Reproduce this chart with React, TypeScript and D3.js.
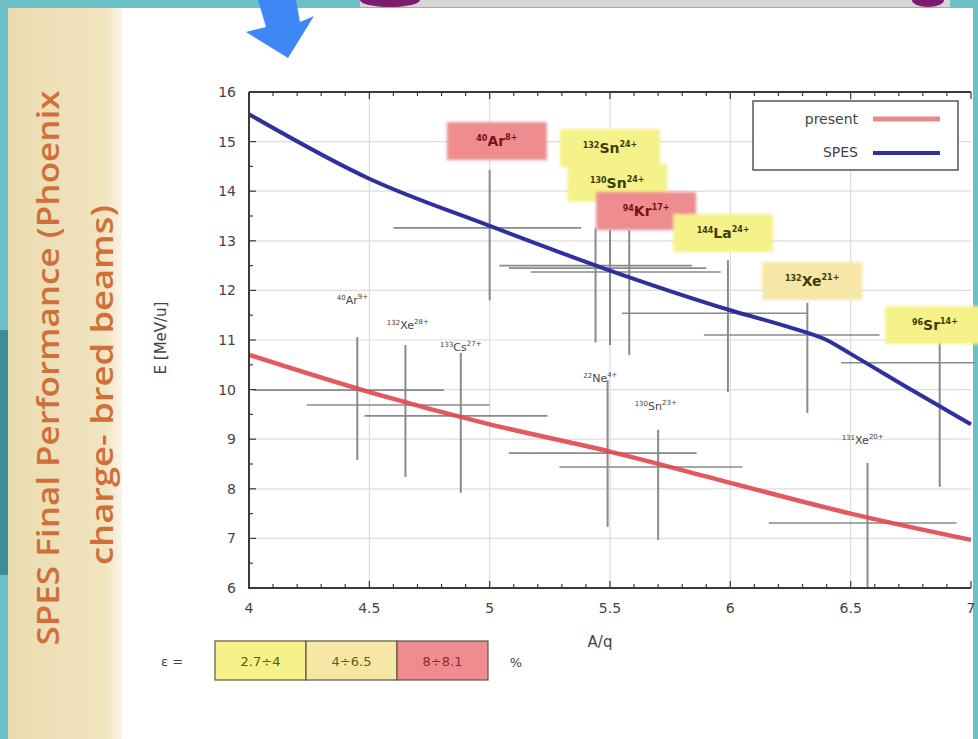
import * as d3 from 'd3';

// axis ticks
const aqTicks = [4, 4.5, 5, 5.5, 6, 6.5, 7];
const eTicks = [6, 7, 8, 9, 10, 11, 12, 13, 14, 15, 16];

// curves
const presentAQ = [4, 4.5, 5, 5.5, 6, 6.5, 7];
const presentE = [10.7, 9.95, 9.3, 8.75, 8.12, 7.5, 6.97];
const spesAQ = [4, 4.5, 5, 5.5, 6, 6.25, 6.4, 6.5, 6.75, 7];
const spesE = [15.55, 14.25, 13.3, 12.4, 11.6, 11.25, 11.0, 10.72, 10.0, 9.3];

// beams (centre, ranges, label)
const ionMass = ['40', '132', '133', '40', '132', '130', '94', '144', '132', '96', '22', '130', '131'];
const ionSymbol = ['Ar', 'Xe', 'Cs', 'Ar', 'Sn', 'Sn', 'Kr', 'La', 'Xe', 'Sr', 'Ne', 'Sn', 'Xe'];
const ionCharge = ['9+', '28+', '27+', '8+', '24+', '24+', '17+', '24+', '21+', '14+', '4+', '23+', '20+'];
const ionAQ = [4.45, 4.65, 4.88, 5.0, 5.5, 5.44, 5.58, 5.99, 6.32, 6.87, 5.49, 5.7, 6.57];
const ionE = [9.99, 9.69, 9.47, 13.26, 12.45, 12.5, 12.37, 11.54, 11.1, 10.54, 8.72, 8.44, 7.31];
const ionAQLo = [4.02, 4.24, 4.48, 4.6, 5.08, 5.04, 5.17, 5.55, 5.89, 6.46, 5.08, 5.29, 6.16];
const ionAQHi = [4.81, 5.0, 5.24, 5.38, 5.9, 5.84, 5.96, 6.32, 6.62, 7.02, 5.86, 6.05, 6.94];
const ionELo = [8.58, 8.24, 7.92, 11.8, 10.9, 10.95, 10.7, 9.95, 9.53, 8.04, 7.23, 6.97, 6.0];
const ionEHi = [11.06, 10.9, 10.74, 14.43, 13.22, 13.25, 13.22, 12.61, 11.75, 11.06, 10.19, 9.19, 8.52];
// efficiency class of highlighted beams, -1 = plain label
const ionClass = [-1, -1, -1, 2, 0, 0, 2, 0, 1, 0, -1, -1, -1];
const ionLabelAQ = [4.43, 4.66, 4.88, 5.03, 5.5, 5.53, 5.65, 5.97, 6.34, 6.85, 5.46, 5.69, 6.55];
const ionLabelE = [11.81, 11.3, 10.86, 15.01, 14.87, 14.17, 13.6, 13.16, 12.19, 11.3, 10.23, 9.67, 8.98];

const effLabels = ['2.7÷4', '4÷6.5', '8÷8.1'];
const effColors = ['#f5f28a', '#f7e7a6', '#ee8c8f'];
const effText = ['#5d5a10', '#6b5a18', '#9a1f2a'];

export default function App() {
  const W = 978, H = 739;
  const x = d3.scaleLinear().domain([4, 7]).range([249, 971]);
  const y = d3.scaleLinear().domain([6, 16]).range([588, 92]);

  const line = d3.line<[number, number]>()
    .x(d => x(d[0]))
    .y(d => y(d[1]))
    .curve(d3.curveMonotoneX);

  const presentPath = line(presentAQ.map((a, i) => [a, presentE[i]])) || '';
  const spesPath = line(spesAQ.map((a, i) => [a, spesE[i]])) || '';

  const minorX = d3.range(40, 71).map(v => v / 10);
  const minorY = d3.range(12, 33).map(v => v / 2);
  const font = 'DejaVu Sans, sans-serif';

  return (
    <svg width={W} height={H} style={{ position: 'absolute', left: 0, top: 0 }} fontFamily={font}>
      <defs>
        <filter id="soft" x="-10%" y="-20%" width="120%" height="140%">
          <feGaussianBlur stdDeviation="1.6" />
        </filter>
        <linearGradient id="beige" x1="0" x2="1">
          <stop offset="0" stopColor="#eadbb0" />
          <stop offset="0.85" stopColor="#f1e5c0" />
          <stop offset="1" stopColor="#faf4e2" />
        </linearGradient>
      </defs>

      {/* slide background */}
      <rect width={W} height={H} fill="#6cc1c9" />
      <rect x={0} y={330} width={8} height={245} fill="#3c8c9c" />
      <rect x={360} y={0} width={590} height={7} fill="#d6d6d6" />
      <ellipse cx={390} cy={0} rx={30} ry={7} fill="#7b1c6e" />
      <ellipse cx={928} cy={0} rx={16} ry={7} fill="#7b1c6e" />
      <rect x={8} y={8} width={114} height={H - 8} fill="url(#beige)" />
      <rect x={122} y={8} width={851} height={H - 8} fill="#ffffff" />
      <polygon points="258,0 296,0 300,22 314,16 288,58 246,32 266,27" fill="#3f87f4" />

      <text transform="translate(59,368) rotate(-90)" textAnchor="middle" fontFamily="Open Sans, sans-serif"
        fontSize={30} fontWeight={600} fill="#d06f3a" textLength={555} lengthAdjust="spacingAndGlyphs">
        SPES Final Performance (Phoenix
      </text>
      <text transform="translate(113,385) rotate(-90)" textAnchor="middle" fontFamily="Open Sans, sans-serif"
        fontSize={30} fontWeight={600} fill="#d06f3a" textLength={360} lengthAdjust="spacingAndGlyphs">
        charge- bred beams)
      </text>

      {/* grid */}
      {aqTicks.slice(1, -1).map(t => (
        <line key={'gx' + t} x1={x(t)} x2={x(t)} y1={y(16)} y2={y(6)} stroke="#dcdcdc" strokeWidth={1.2} />
      ))}
      {eTicks.slice(1, -1).map(t => (
        <line key={'gy' + t} x1={x(4)} x2={x(7)} y1={y(t)} y2={y(t)} stroke="#dcdcdc" strokeWidth={1.2} />
      ))}

      {/* beam ranges */}
      {ionAQ.map((a, i) => (
        <g key={'eb' + i} stroke="#8a8a8a">
          <line x1={x(ionAQLo[i])} x2={x(ionAQHi[i])} y1={y(ionE[i])} y2={y(ionE[i])} strokeWidth={1.6} />
          <line x1={x(a)} x2={x(a)} y1={y(ionELo[i])} y2={y(ionEHi[i])} strokeWidth={2} />
        </g>
      ))}

      {/* curves */}
      <path d={presentPath} fill="none" stroke="#e0474f" strokeWidth={4.5} opacity={0.9} />
      <path d={spesPath} fill="none" stroke="#2f2f9e" strokeWidth={4} />

      {/* beam labels */}
      {ionAQ.map((a, i) => {
        const cx = x(ionLabelAQ[i]);
        const cy = y(ionLabelE[i]);
        const c = ionClass[i];
        if (c < 0) {
          return (
            <text key={'lb' + i} x={cx} y={cy + 4} textAnchor="middle" fill="#444" fontSize={11}>
              <tspan fontSize={7} dy={-4}>{ionMass[i]}</tspan>
              <tspan dy={4}>{ionSymbol[i]}</tspan>
              <tspan fontSize={7} dy={-5}>{ionCharge[i]}</tspan>
            </text>
          );
        }
        return (
          <g key={'lb' + i}>
            <rect x={cx - 50} y={cy - 19} width={100} height={38} fill={effColors[c]} filter="url(#soft)" />
            <text x={cx} y={cy + 5} textAnchor="middle" fill={c === 2 ? '#7a1010' : '#3e3c08'} fontSize={14} fontWeight="bold">
              <tspan fontSize={8} dy={-5}>{ionMass[i]}</tspan>
              <tspan dy={5}>{ionSymbol[i]}</tspan>
              <tspan fontSize={8} dy={-6}>{ionCharge[i]}</tspan>
            </text>
          </g>
        );
      })}

      {/* legend */}
      <rect x={753} y={101} width={205} height={69} fill="#fff" stroke="#555" strokeWidth={1.5} />
      <text x={858} y={124} textAnchor="end" fontSize={14} fill="#444">present</text>
      <line x1={873} x2={940} y1={119} y2={119} stroke="#e58a8a" strokeWidth={5} />
      <text x={858} y={157} textAnchor="end" fontSize={14} fill="#444">SPES</text>
      <line x1={873} x2={940} y1={153} y2={153} stroke="#2f2f9e" strokeWidth={4} />

      {/* frame and ticks */}
      <path d={`M${x(4)},${y(16)}H${x(7)}M${x(4)},${y(16)}V${y(6)}H${x(7)}`} fill="none" stroke="#3a3a3a" strokeWidth={2} />
      {minorX.map(t => {
        const major = Math.abs(t * 2 - Math.round(t * 2)) < 1e-6;
        const len = major ? 7 : 4;
        return (
          <g key={'tx' + t} stroke="#3a3a3a" strokeWidth={1.2}>
            <line x1={x(t)} x2={x(t)} y1={y(6)} y2={y(6) - len} />
            <line x1={x(t)} x2={x(t)} y1={y(16)} y2={y(16) + len} />
          </g>
        );
      })}
      {minorY.map(t => (
        <line key={'ty' + t} x1={x(4)} x2={x(4) + (Number.isInteger(t) ? 7 : 4)} y1={y(t)} y2={y(t)}
          stroke="#3a3a3a" strokeWidth={1.2} />
      ))}
      {eTicks.map(t => (
        <text key={'ly' + t} x={236} y={y(t)} dy="0.35em" textAnchor="end" fontSize={14} fill="#444">{t}</text>
      ))}
      {aqTicks.map(t => (
        <text key={'lx' + t} x={x(t)} y={613} textAnchor="middle" fontSize={14} fill="#444">{t}</text>
      ))}
      <text transform="translate(166,338) rotate(-90)" textAnchor="middle" fontSize={15} fill="#444">
        E [MeV/u]
      </text>
      <text x={600} y={647} textAnchor="middle" fontSize={15} fill="#444">A/q</text>

      {/* efficiency key */}
      <text x={172} y={666} textAnchor="middle" fontSize={13} fill="#444">ε =</text>
      {effLabels.map((lab, i) => (
        <g key={'ef' + i}>
          <rect x={215 + i * 91} y={641} width={91} height={39} fill={effColors[i]} stroke="#5a5a3a" strokeWidth={1.2} />
          <text x={215 + i * 91 + 45.5} y={666} textAnchor="middle" fontSize={13} fill={effText[i]}>{lab}</text>
        </g>
      ))}
      <text x={516} y={667} textAnchor="middle" fontSize={13} fill="#444">%</text>
    </svg>
  );
}
